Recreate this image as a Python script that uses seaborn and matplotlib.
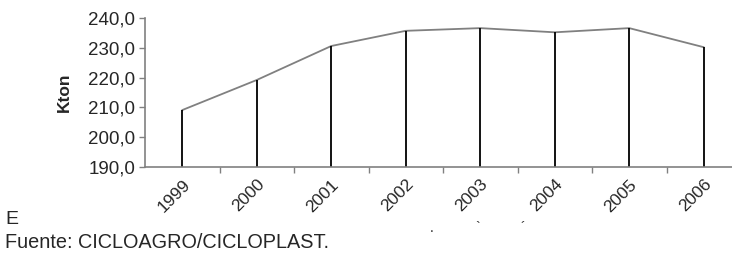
import pandas as pd
import matplotlib
matplotlib.use('Agg')
from matplotlib import pyplot as plt
import seaborn as sbn

# Data
years = ['1999', '2000', '2001', '2002', '2003', '2004', '2005', '2006']
kton = [209.1, 219.2, 230.6, 235.7, 236.6, 235.2, 236.6, 230.2]
y_ticks = [190, 200, 210, 220, 230, 240]

mydata = pd.DataFrame({'year': years, 'kton': kton})
mydata['pos'] = range(len(years))

sbn.set_style('white')
plt.rcParams['font.family'] = ['Liberation Sans', 'DejaVu Sans']

fig = plt.figure(figsize=(7.32, 2.61), dpi=100)
# axes runs past the right edge, like the cropped original
ax = fig.add_axes([145 / 732, 1 - 167 / 261, (741 - 145) / 732, 149 / 261])

sbn.lineplot(data=mydata, x='pos', y='kton', color='#808080', linewidth=1.3, ax=ax)
ax.vlines(mydata['pos'], 190, mydata['kton'], color='black', linewidth=1.3)

ax.set_xlim(-0.5, len(years) - 0.5)
ax.set_ylim(190, 240)

# year labels at the drop lines, tick marks between categories
ax.set_xticks(mydata['pos'])
ax.set_xticklabels(years, rotation=45, ha='right', rotation_mode='anchor', fontsize=12.5)
ax.set_xticks([p + 0.5 for p in mydata['pos'][:-1]], minor=True)
ax.tick_params(axis='x', which='major', length=0, pad=7)
ax.tick_params(axis='x', which='minor', length=4, width=1, color='#808080', direction='out', bottom=True)

ax.set_yticks(y_ticks)
ax.set_yticklabels([f'{v:.1f}'.replace('.', ',') for v in y_ticks], fontsize=13.5)
ax.tick_params(axis='y', length=4, width=1, color='#808080', direction='out', left=True, pad=3)

for side in ['top', 'right']:
    ax.spines[side].set_visible(False)
for side in ['left', 'bottom']:
    ax.spines[side].set_color('#808080')
    ax.spines[side].set_linewidth(1.2)

ax.set_xlabel('')
ax.set_ylabel('Kton', fontsize=12.5, fontweight='bold', labelpad=12)

# text below the chart
fig.text(5 / 732, 1 - 219 / 261, 'E', fontsize=14, va='center', ha='left')
fig.text(5 / 732, 1 - 243 / 261, 'Fuente: CICLOAGRO/CICLOPLAST.', fontsize=14.3, va='center', ha='left')
for mx, mark in [(432, '.'), (478, '`'), (523, '´')]:
    fig.text(mx / 732, 1 - 228 / 261, mark, fontsize=10, va='center', ha='center')

plt.savefig('out.png', dpi=100)
